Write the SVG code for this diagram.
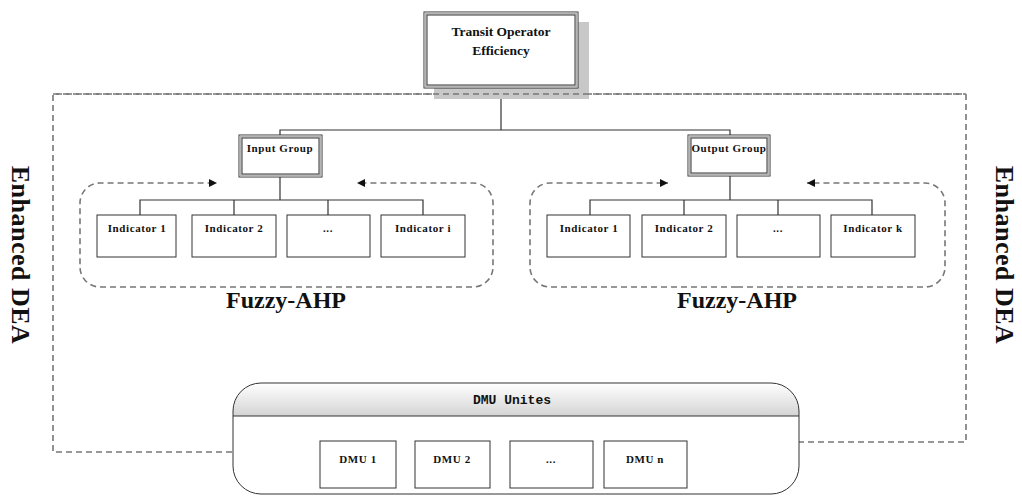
<svg xmlns="http://www.w3.org/2000/svg" width="1022" height="496" viewBox="0 0 1022 496">
<style>
.box{fill:#fff;stroke:#333;stroke-width:1}
.dbl-o{fill:#fff;stroke:#333;stroke-width:1}
.dbl-m{fill:none;stroke:#b5b5b5;stroke-width:2}
.dbl-i{fill:none;stroke:#333;stroke-width:1}
.ln{fill:none;stroke:#333;stroke-width:1.2}
.dash{fill:none;stroke:#777;stroke-width:1.6;stroke-dasharray:6 4}
.t{font-family:"Liberation Serif",serif;font-weight:bold;fill:#111;text-anchor:middle}
.s{font-size:11px;letter-spacing:0.6px}
.big{font-size:24px}
.side{font-size:26px;letter-spacing:0.5px}
.mono{font-family:"Liberation Mono",monospace;font-weight:bold;font-size:13px;fill:#111;text-anchor:middle}
</style>
<defs>
<marker id="ah" markerUnits="userSpaceOnUse" markerWidth="10" markerHeight="10" refX="8" refY="4" orient="auto">
<path d="M0,0 L8,4 L0,8 Z" fill="#111"/>
</marker>
<linearGradient id="hdr" x1="0" y1="0" x2="0" y2="1">
<stop offset="0" stop-color="#ffffff"/>
<stop offset="1" stop-color="#d4d4d4"/>
</linearGradient>
<clipPath id="dmuclip"><rect x="233" y="383" width="566" height="111" rx="28" ry="28"/></clipPath>
</defs>

<g id="enhanced-dea-frame">
<path class="dash" d="M232 452 H53 V94 H966 V442 H798"/>
</g>

<g id="connectors">
<line class="ln" x1="501" y1="88" x2="501" y2="130"/>
<path class="ln" d="M280 135 V130 H730 V135"/>
<line class="ln" x1="280" y1="177" x2="280" y2="200"/>
<path class="ln" d="M140 215 V200 H423 V215 M234 200 V215 M328 200 V215"/>
<line class="ln" x1="730" y1="176" x2="730" y2="200"/>
<path class="ln" d="M590 215 V200 H872 V215 M684 200 V215 M778 200 V215"/>
</g>

<g id="top-node">
<rect x="434" y="22" width="155" height="77" fill="#c8c8c8"/>
<rect class="dbl-o" x="424" y="12" width="154" height="76"/>
<rect class="dbl-m" x="425.5" y="13.5" width="151" height="73"/>
<rect class="dbl-i" x="427" y="15" width="148" height="70"/>
<text class="t" x="501" y="36" font-size="13.5">Transit Operator</text>
<text class="t" x="501" y="55" font-size="13.5">Efficiency</text>
</g>
<line class="dash" x1="53" y1="94" x2="966" y2="94"/>

<g id="input-group">
<rect class="dbl-o" x="239" y="135" width="83" height="42"/>
<rect class="dbl-m" x="240.5" y="136.5" width="80" height="39"/>
<rect class="dbl-i" x="242" y="138" width="77" height="36"/>
<text class="t s" x="280" y="152">Input Group</text>
</g>

<g id="output-group">
<rect class="dbl-o" x="688" y="135" width="82" height="41"/>
<rect class="dbl-m" x="689.5" y="136.5" width="79" height="38"/>
<rect class="dbl-i" x="691" y="138" width="76" height="35"/>
<text class="t s" x="729" y="152">Output Group</text>
</g>

<g id="fuzzy-ahp-input">
<path class="dash" marker-end="url(#ah)" d="M286 287 H100 A20 20 0 0 1 80 267 V203 A20 20 0 0 1 100 183 H217"/>
<path class="dash" marker-end="url(#ah)" d="M286 287 H473 A20 20 0 0 0 493 267 V203 A20 20 0 0 0 473 183 H357"/>
<text class="t big" x="286" y="308">Fuzzy-AHP</text>
</g>
<g id="fuzzy-ahp-output">
<path class="dash" marker-end="url(#ah)" d="M737 287 H550 A20 20 0 0 1 530 267 V203 A20 20 0 0 1 550 183 H668"/>
<path class="dash" marker-end="url(#ah)" d="M737 287 H925 A20 20 0 0 0 945 267 V203 A20 20 0 0 0 925 183 H807"/>
<text class="t big" x="737" y="308">Fuzzy-AHP</text>
</g>

<g id="in-ind-1"><rect class="box" x="97" y="215" width="79" height="42"/><text class="t s" x="137" y="232">Indicator 1</text></g>
<g id="in-ind-2"><rect class="box" x="192" y="215" width="84" height="42"/><text class="t s" x="234" y="232">Indicator 2</text></g>
<g id="in-ind-dots"><rect class="box" x="287" y="215" width="83" height="42"/><text class="t s" x="328" y="232">...</text></g>
<g id="in-ind-i"><rect class="box" x="381" y="215" width="84" height="42"/><text class="t s" x="423" y="232">Indicator i</text></g>

<g id="out-ind-1"><rect class="box" x="547" y="215" width="83" height="42"/><text class="t s" x="589" y="232">Indicator 1</text></g>
<g id="out-ind-2"><rect class="box" x="642" y="215" width="84" height="42"/><text class="t s" x="684" y="232">Indicator 2</text></g>
<g id="out-ind-dots"><rect class="box" x="737" y="215" width="83" height="42"/><text class="t s" x="778" y="232">...</text></g>
<g id="out-ind-k"><rect class="box" x="831" y="215" width="84" height="42"/><text class="t s" x="873" y="232">Indicator k</text></g>

<g id="dmu-unites">
<rect x="233" y="383" width="566" height="111" rx="28" ry="28" fill="#fff"/>
<rect x="233" y="383" width="566" height="33" fill="url(#hdr)" clip-path="url(#dmuclip)"/>
<line x1="233" y1="416" x2="799" y2="416" stroke="#333" stroke-width="1"/>
<rect x="233" y="383" width="566" height="111" rx="28" ry="28" fill="none" stroke="#333" stroke-width="1"/>
<text class="mono" x="512" y="404">DMU Unites</text>
</g>
<g id="dmu-1"><rect class="box" x="320" y="441" width="76" height="47"/><text class="t s" x="358" y="463">DMU 1</text></g>
<g id="dmu-2"><rect class="box" x="415" y="441" width="75" height="47"/><text class="t s" x="452" y="463">DMU 2</text></g>
<g id="dmu-dots"><rect class="box" x="510" y="441" width="83" height="47"/><text class="t s" x="551" y="463">...</text></g>
<g id="dmu-n"><rect class="box" x="604" y="441" width="83" height="47"/><text class="t s" x="645" y="463">DMU n</text></g>

<g id="label-left"><text class="t side" transform="translate(12 255) rotate(90)">Enhanced DEA</text></g>
<g id="label-right"><text class="t side" transform="translate(996 255) rotate(90)">Enhanced DEA</text></g>
</svg>
